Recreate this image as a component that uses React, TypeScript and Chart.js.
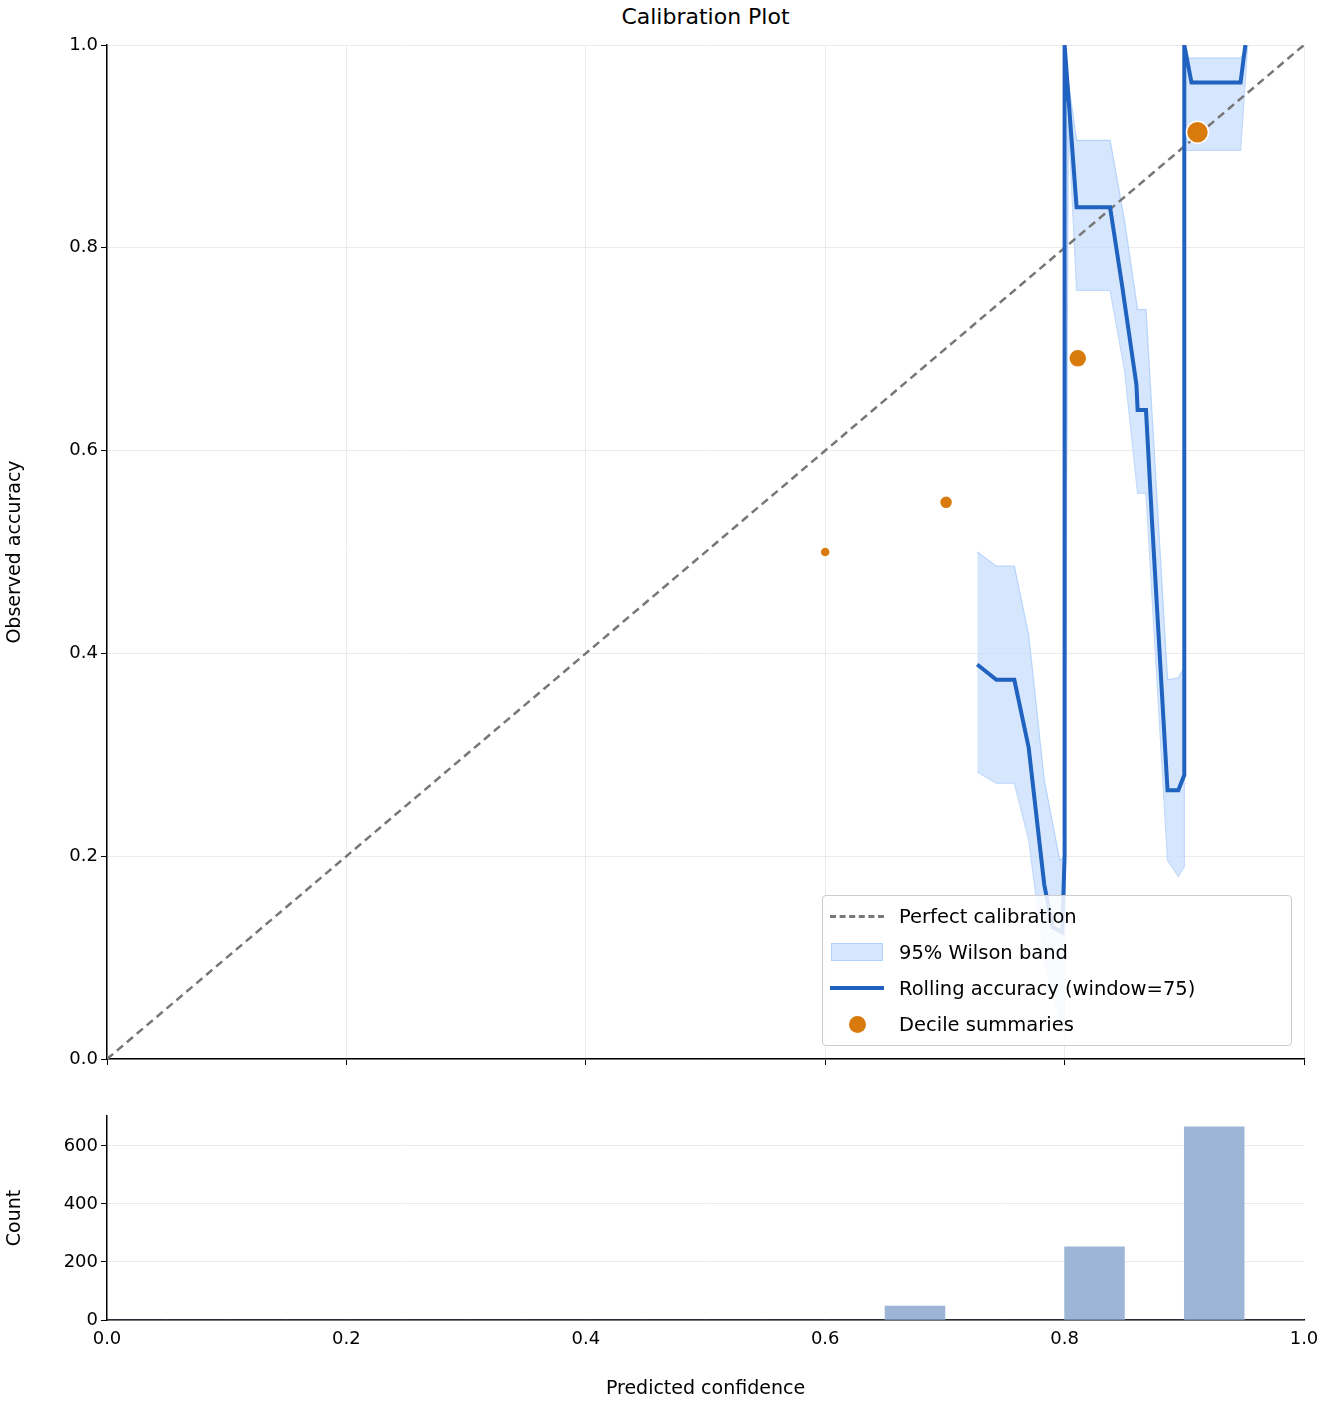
import React, { useEffect, useRef } from "react";
import { Chart, registerables } from "chart.js";
Chart.register(...registerables);

const lineX = [0.727, 0.743, 0.758, 0.770, 0.783, 0.790, 0.798, 0.800, 0.800, 0.810, 0.838, 0.848, 0.860, 0.861, 0.868, 0.873, 0.886, 0.895, 0.900, 0.900, 0.906, 0.947, 0.951];
const lineY = [0.389, 0.374, 0.374, 0.307, 0.172, 0.130, 0.125, 0.200, 1.0, 0.840, 0.840, 0.763, 0.665, 0.640, 0.640, 0.531, 0.265, 0.265, 0.280, 1.0, 0.963, 0.963, 1.0];
const bandX = [0.727, 0.743, 0.758, 0.770, 0.783, 0.796, 0.800, 0.803, 0.810, 0.838, 0.850, 0.861, 0.868, 0.886, 0.895, 0.900, 0.900, 0.907, 0.947, 0.953];
const bandUpper = [0.500, 0.486, 0.486, 0.418, 0.275, 0.196, 0.200, 0.965, 0.906, 0.906, 0.827, 0.739, 0.739, 0.374, 0.376, 0.386, 0.987, 0.987, 0.987, 1.0];
const bandLower = [0.283, 0.272, 0.272, 0.216, 0.098, 0.040, 0.030, 0.930, 0.758, 0.758, 0.680, 0.558, 0.558, 0.196, 0.180, 0.190, 0.896, 0.896, 0.896, 1.0];
const decileX = [0.600, 0.701, 0.811, 0.911];
const decileY = [0.500, 0.549, 0.691, 0.914];
const decileRadius = [5, 6.5, 9, 11];
const binCenters = [0.025, 0.075, 0.125, 0.175, 0.225, 0.275, 0.325, 0.375, 0.425, 0.475, 0.525, 0.575, 0.625, 0.675, 0.725, 0.775, 0.825, 0.875, 0.925, 0.975];
const binCounts = [0, 0, 0, 0, 0, 0, 0, 0, 0, 0, 0, 0, 0, 48, 0, 0, 252, 0, 666, 0];

const FONT = "'DejaVu Sans', sans-serif";
const LINE_COLOR = "#2062c0";
const BAND_FILL = "rgba(200,222,252,0.75)";
const BAND_EDGE = "rgba(170,205,250,0.8)";
const ORANGE = "#d97a0c";
const GRID = "#ebebeb";

const pts = (xs: number[], ys: number[]) => xs.map((x, i) => ({ x, y: ys[i] }));

export default function App() {
  const topRef = useRef<HTMLCanvasElement>(null);
  const botRef = useRef<HTMLCanvasElement>(null);
  useEffect(() => {
    const tickFont = { family: FONT, size: 18 };
    const titleFont = { family: FONT, size: 19 };
    const top = new Chart(topRef.current!, {
      type: "line",
      data: {
        datasets: [
          { order: 2, data: [{ x: 0, y: 0 }, { x: 1, y: 1 }], borderColor: "#777", borderDash: [8, 5], borderWidth: 2.5, pointRadius: 0, fill: false },
          { order: 4, data: pts(bandX, bandLower), borderColor: BAND_EDGE, borderWidth: 1.2, pointRadius: 0, fill: false },
          { order: 3, data: pts(bandX, bandUpper), borderColor: BAND_EDGE, borderWidth: 1.2, pointRadius: 0, fill: "-1", backgroundColor: BAND_FILL },
          { order: 1, data: pts(lineX, lineY), borderColor: LINE_COLOR, borderWidth: 4, pointRadius: 0, fill: false },
          { order: 0, type: "scatter", data: pts(decileX, decileY), backgroundColor: ORANGE, borderColor: "#fff", borderWidth: 1.5, pointRadius: decileRadius } as any,
        ],
      },
      options: {
        animation: false, responsive: false,
        layout: { padding: { top: 45, right: 28, left: 0, bottom: 0 } },
        plugins: { legend: { display: false }, tooltip: { enabled: false } },
        elements: { line: { tension: 0 } },
        scales: {
          x: {
            type: "linear", min: 0, max: 1,
            ticks: { display: false, stepSize: 0.2 },
            grid: { color: GRID, tickColor: "#000", tickLength: 6 },
            border: { color: "#000", width: 1.5 },
            afterFit: (s: any) => { s.height = 31; },
          },
          y: {
            min: 0, max: 1,
            ticks: { stepSize: 0.2, font: tickFont, color: "#000", callback: (v: any) => Number(v).toFixed(1) },
            grid: { color: GRID, tickColor: "#000", tickLength: 6 },
            border: { color: "#000", width: 1.5 },
            title: { display: true, text: "Observed accuracy", font: titleFont, color: "#000" },
            afterFit: (s: any) => { s.width = 107; },
          },
        },
      } as any,
    });
    const bot = new Chart(botRef.current!, {
      type: "bar",
      data: {
        datasets: [{ data: pts(binCenters, binCounts), backgroundColor: "#9db5d6", barPercentage: 1, categoryPercentage: 1 } as any],
      },
      options: {
        animation: false, responsive: false,
        layout: { padding: { top: 26, right: 28, left: 0, bottom: 0 } },
        plugins: { legend: { display: false }, tooltip: { enabled: false } },
        scales: {
          x: {
            type: "linear", min: 0, max: 1, offset: false,
            ticks: { stepSize: 0.2, font: tickFont, color: "#000", callback: (v: any) => Number(v).toFixed(1) },
            grid: { display: false, tickColor: "#000", tickLength: 6 },
            border: { color: "#000", width: 1.5 },
            title: { display: true, text: "Predicted confidence", font: titleFont, color: "#000", padding: { top: 4 } },
            afterFit: (s: any) => { s.height = 84; },
          },
          y: {
            min: 0, max: 703,
            afterBuildTicks: (s: any) => { s.ticks = [0, 200, 400, 600].map((v) => ({ value: v })); },
            ticks: { stepSize: 200, font: tickFont, color: "#000" },
            grid: { color: GRID, tickColor: "#000", tickLength: 6 },
            border: { color: "#000", width: 1.5 },
            title: { display: true, text: "Count", font: titleFont, color: "#000" },
            afterFit: (s: any) => { s.width = 107; },
          },
        },
      } as any,
    });
    return () => { top.destroy(); bot.destroy(); };
  }, []);

  const item = (sym: React.ReactNode, text: string) => (
    <div style={{ display: "flex", alignItems: "center", height: 36 }}>
      <div style={{ width: 56, display: "flex", justifyContent: "center", alignItems: "center" }}>{sym}</div>
      <span style={{ marginLeft: 14 }}>{text}</span>
    </div>
  );

  return (
    <div style={{ position: "absolute", left: 0, top: 0, width: 1332, height: 1404, background: "#fff", fontFamily: FONT }}>
      <div style={{ position: "absolute", left: 107, width: 1197, top: 4, textAlign: "center", fontSize: 22, color: "#000" }}>Calibration Plot</div>
      <canvas ref={topRef} width={1332} height={1090} style={{ position: "absolute", left: 0, top: 0 }} />
      <canvas ref={botRef} width={1332} height={314} style={{ position: "absolute", left: 0, top: 1090 }} />
      <div style={{ position: "absolute", left: 822, top: 895, width: 470, height: 151, border: "1px solid #ccc", borderRadius: 4, background: "rgba(255,255,255,0.85)", fontSize: 19.5, color: "#000", padding: "2px 0 0 6px", boxSizing: "border-box" }}>
        {item(<div style={{ width: 54, borderTop: "3px dashed #777" }} />, "Perfect calibration")}
        {item(<div style={{ width: 50, height: 16, background: BAND_FILL, border: `1px solid ${BAND_EDGE}` }} />, "95% Wilson band")}
        {item(<div style={{ width: 54, borderTop: `4px solid ${LINE_COLOR}` }} />, "Rolling accuracy (window=75)")}
        {item(<div style={{ width: 17, height: 17, borderRadius: "50%", background: ORANGE }} />, "Decile summaries")}
      </div>
    </div>
  );
}
